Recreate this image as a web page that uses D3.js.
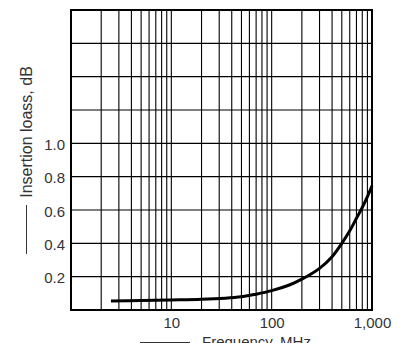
<!DOCTYPE html>
<html>
<head>
<meta charset="utf-8">
<script src="https://cdn.jsdelivr.net/npm/d3@7"></script>
<style>
  body { margin: 0; background: #fff; }
  text { font-family: "Liberation Sans", Arial, sans-serif; fill: #333; }
</style>
</head>
<body>
<div id="chart"></div>
<script>
// curve
var freq = [2.5, 5, 10, 20, 50, 70, 100, 150, 200, 300, 400, 500, 600, 700, 800, 900, 1000];
var loss = [0.054, 0.057, 0.06, 0.064, 0.08, 0.095, 0.116, 0.15, 0.185, 0.25, 0.32, 0.40, 0.475, 0.55, 0.615, 0.68, 0.745];
var y_ticks = [0.2, 0.4, 0.6, 0.8, 1.0];
var x_ticks = [10, 100, 1000];
var x_title = 'Frequency, MHz';
var y_title = 'Insertion loass, dB';

var margin = { top: 10, right: 37, bottom: 33, left: 71 },
    width = 409 - margin.left - margin.right,
    height = 343 - margin.top - margin.bottom;

var svg = d3.select('#chart').append('svg')
    .attr('width', 409)
    .attr('height', 343);

var g = svg.append('g')
    .attr('transform', `translate(${margin.left},${margin.top})`);

var x = d3.scaleLog()
    .domain([1, 1000])
    .range([0, width]);

var y = d3.scaleLinear()
    .domain([0, 1.8])
    .range([height, 0]);

// grid lines
var vlines = [];
[1, 10, 100].forEach(function (dec) {
    for (let i = 2; i <= 9; i++) vlines.push(dec * i);
});
vlines.push(10, 100);

g.selectAll('.vgrid')
    .data(vlines)
    .enter()
    .append('line')
    .attr('class', 'vgrid')
    .attr('x1', d => x(d))
    .attr('x2', d => x(d))
    .attr('y1', 0)
    .attr('y2', height)
    .attr('stroke', 'black')
    .attr('stroke-width', 1.1);

g.selectAll('.hgrid')
    .data(d3.range(1, 9).map(d => d * 0.2))
    .enter()
    .append('line')
    .attr('class', 'hgrid')
    .attr('x1', 0)
    .attr('x2', width)
    .attr('y1', d => y(d))
    .attr('y2', d => y(d))
    .attr('stroke', 'black')
    .attr('stroke-width', 1.1);

g.append('rect')
    .attr('x', 0)
    .attr('y', 0)
    .attr('width', width)
    .attr('height', height)
    .attr('fill', 'none')
    .attr('stroke', 'black')
    .attr('stroke-width', 2);

// axes, labels only
var xAxis = g.append('g')
    .attr('transform', `translate(0,${height})`)
    .call(d3.axisBottom(x).tickValues(x_ticks).tickSize(0).tickPadding(7)
        .tickFormat(d3.format(',')));
xAxis.select('.domain').remove();
xAxis.selectAll('text').style('font-size', '15px').attr('fill', '#333');

var yAxis = g.append('g')
    .call(d3.axisLeft(y).tickValues(y_ticks).tickSize(0).tickPadding(6)
        .tickFormat(d3.format('.1f')));
yAxis.select('.domain').remove();
yAxis.selectAll('text').style('font-size', '15px').attr('fill', '#333').attr('dy', '0.4em');

// curve
var line = d3.line()
    .x((d, i) => x(freq[i]))
    .y(d => y(d))
    .curve(d3.curveCatmullRom.alpha(0.5));

g.append('path')
    .datum(loss)
    .attr('d', line)
    .attr('fill', 'none')
    .attr('stroke', 'black')
    .attr('stroke-width', 3);

// titles with arrow lines
svg.append('text')
    .attr('x', 202)
    .attr('y', 347)
    .style('font-size', '15px')
    .text(x_title);

svg.append('line')
    .attr('x1', 140).attr('x2', 190)
    .attr('y1', 342.5).attr('y2', 342.5)
    .attr('stroke', '#333').attr('stroke-width', 1);

svg.append('text')
    .attr('transform', 'translate(32,132) rotate(-90)')
    .attr('text-anchor', 'middle')
    .style('font-size', '16px')
    .text(y_title);

svg.append('line')
    .attr('x1', 26.5).attr('x2', 26.5)
    .attr('y1', 205).attr('y2', 254)
    .attr('stroke', '#333').attr('stroke-width', 1);
</script>
</body>
</html>
